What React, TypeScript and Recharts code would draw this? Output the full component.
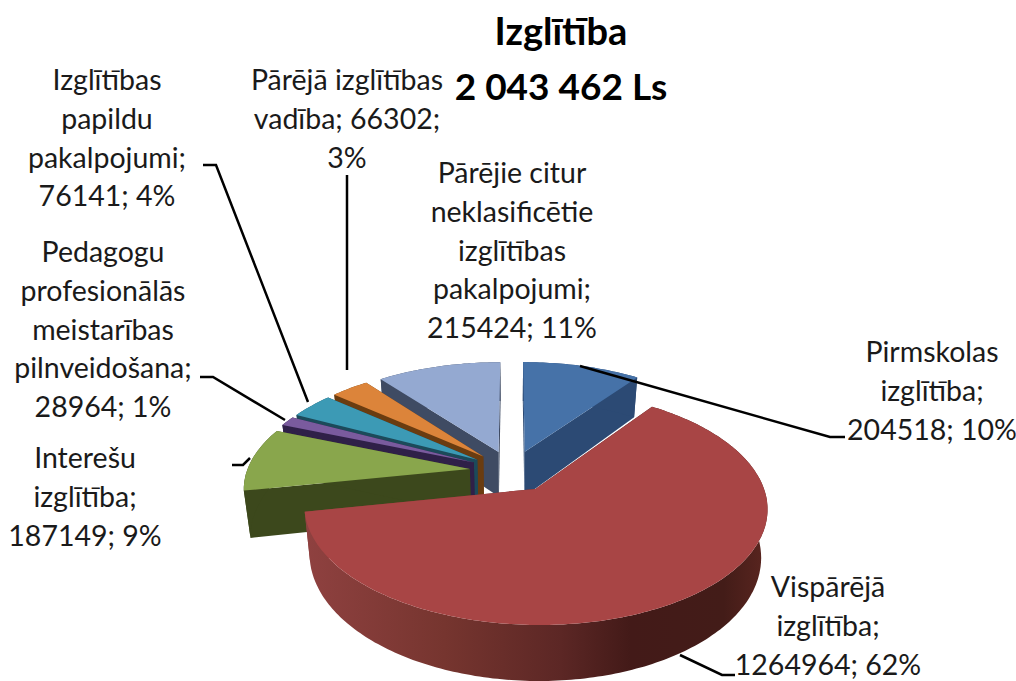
import { PieChart, Pie } from "recharts";

const categories = [
  "Pirmskolas izglītība",
  "Vispārējā izglītība",
  "Interešu izglītība",
  "Pedagogu profesionālās meistarības pilnveidošana",
  "Izglītības papildu pakalpojumi",
  "Pārējā izglītības vadība",
  "Pārējie citur neklasificētie izglītības pakalpojumi",
];
const values = [204518, 1264964, 187149, 28964, 76141, 66302, 215424];
const topColors = ["#4672a8", "#a84545", "#89a64c", "#7a5b9e", "#3c9ab5", "#dc843a", "#94a9d1"];
const wallColors = ["#2c4a74", "url(#redWall)", "#3c481c", "#2f2048", "#1c4a5a", "#6a3c10", "#3f4b63"];

const labelLines = [
  ["Pirmskolas", "izglītība;", "204518; 10%"],
  ["Vispārējā", "izglītība;", "1264964; 62%"],
  ["Interešu", "izglītība;", "187149; 9%"],
  ["Pedagogu", "profesionālās", "meistarības", "pilnveidošana;", "28964; 1%"],
  ["Izglītības", "papildu", "pakalpojumi;", "76141; 4%"],
  ["Pārējā izglītības", "vadība; 66302;", "3%"],
  ["Pārējie citur", "neklasificētie", "izglītības", "pakalpojumi;", "215424; 11%"],
];
const labelAnchors = [[932, 352], [828, 587], [85, 458], [103, 252], [107, 80], [347, 80], [512, 173]];
const leaders = [
  "580,366 830,437 845,437",
  "680,655 722,675 735,675",
  "250,458 243,465 232,465",
  "285,420 213,377 200,377",
  "308,402 216,165 203,165",
  "347,370 347,175",
  "",
];

// back to front, the big red slice has to end up on top
const drawOrder = [0, 6, 5, 4, 3, 2, 1];

const rows = categories.map((name, i) => ({ name, value: values[i] }));

const FONT = "Lato, 'Open Sans', sans-serif";
const EXPLODE = 0.19;
const SCALE_X = 223;
const SCALE_Y = 109;
const PERSPECTIVE = 0.154;
const DEPTH = 46;

// tilted disc: unit-circle coordinates to screen, z = 0 top face, z = 1 bottom face
const project = (cx: number, cy: number, p: number, q: number, z: number) => {
  const w = 1 + PERSPECTIVE * q;
  const x = cx + ((SCALE_X * p) / w) * (1 - 0.025 * z);
  const y = cy - (SCALE_Y * q) / w + (z * DEPTH) / w;
  return [x, y];
};

const toPath = (pts: number[][]) =>
  "M" + pts.map((pt) => `${pt[0].toFixed(1)},${pt[1].toFixed(1)}`).join("L") + "Z";

const sliceShape = (layer: number) => (props: any) => {
  const { cx, cy, startAngle, endAngle, index } = props;
  if (index !== layer) return <g />;

  // recharts angles are counter-clockwise from 3 o'clock, clockwise here from 12
  const from = 90 - startAngle;
  const to = 90 - endAngle;
  const mid = (((from + to) / 2) * Math.PI) / 180;
  const ox = EXPLODE * Math.sin(mid);
  const oy = EXPLODE * Math.cos(mid);

  const rim = (z: number) => {
    const pts: number[][] = [];
    for (let a = from; a < to; a += 1) {
      const t = (a * Math.PI) / 180;
      pts.push(project(cx, cy, ox + Math.sin(t), oy + Math.cos(t), z));
    }
    const t = (to * Math.PI) / 180;
    pts.push(project(cx, cy, ox + Math.sin(t), oy + Math.cos(t), z));
    return pts;
  };

  const top = rim(0);
  const bottom = rim(1);
  const apexTop = project(cx, cy, ox, oy, 0);
  const apexBottom = project(cx, cy, ox, oy, 1);
  const wall = wallColors[index];

  return (
    <g>
      <path d={toPath([apexTop, top[0], bottom[0], apexBottom])} fill={wall} />
      <path
        d={toPath([apexTop, top[top.length - 1], bottom[bottom.length - 1], apexBottom])}
        fill={wall}
      />
      <path d={toPath([...top, ...bottom.slice().reverse()])} fill={wall} />
      <path d={toPath([apexTop, ...top])} fill={topColors[index]} />
    </g>
  );
};

const renderLabel = (props: any) => {
  const i = props.index;
  const [x, y] = labelAnchors[i];
  return (
    <g key={i}>
      {leaders[i] && <polyline points={leaders[i]} fill="none" stroke="#000" strokeWidth={2.5} />}
      <text textAnchor="middle" fontFamily={FONT} fontSize={28.5} fill="#1a1a1a">
        {labelLines[i].map((line, n) => (
          <tspan key={n} x={x} y={y + n * 38.8 + 10}>
            {line}
          </tspan>
        ))}
      </text>
    </g>
  );
};

export default function App() {
  return (
    <div style={{ position: "absolute", left: 0, top: 0, width: 1016, height: 681, overflow: "hidden", background: "#fff" }}>
      <PieChart width={1016} height={681} margin={{ top: 0, right: 0, bottom: 0, left: 0 }}>
        <defs>
          <linearGradient id="redWall" gradientUnits="userSpaceOnUse" x1="305" y1="0" x2="770" y2="0">
            <stop offset="0" stopColor="#8f4140" />
            <stop offset="0.3" stopColor="#76352f" />
            <stop offset="0.55" stopColor="#5c2725" />
            <stop offset="0.7" stopColor="#431a18" />
            <stop offset="0.9" stopColor="#431c18" />
            <stop offset="1" stopColor="#5c2620" />
          </linearGradient>
        </defs>
        {drawOrder.map((layer, n) => (
          <Pie
            key={layer}
            data={rows}
            dataKey="value"
            nameKey="name"
            cx={512}
            cy={471}
            outerRadius={100}
            startAngle={90}
            endAngle={-270}
            stroke="none"
            shape={sliceShape(layer)}
            label={n === drawOrder.length - 1 ? renderLabel : false}
            labelLine={false}
            isAnimationActive={false}
          />
        ))}
        <text x={561} y={45} textAnchor="middle" fontFamily={FONT} fontSize={38} fontWeight={700} fill="#000">
          Izglītība
        </text>
        <text x={561} y={100} textAnchor="middle" fontFamily={FONT} fontSize={37} fontWeight={700} fill="#000">
          2 043 462 Ls
        </text>
      </PieChart>
    </div>
  );
}
